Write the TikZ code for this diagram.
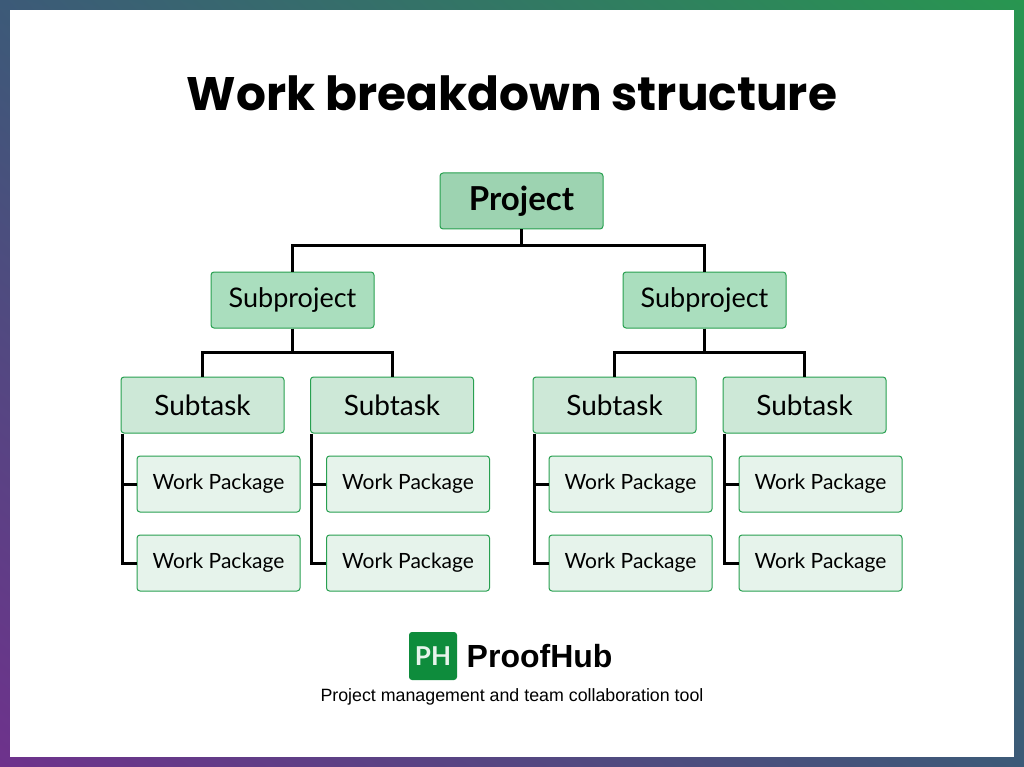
\documentclass[tikz,border=0pt]{standalone}
\usepackage{fontspec}
\setmainfont{Lato}
\newfontfamily\titlefont{Poppins}
\newfontfamily\arialfont{Liberation Sans}
\usetikzlibrary{calc, positioning, shadings}
\definecolor{frameA}{RGB}{40, 150, 80}
\definecolor{frameB}{RGB}{110, 50, 140}
\definecolor{frameC}{RGB}{60, 90, 120}
\definecolor{boxline}{RGB}{40, 160, 80}
\definecolor{projfill}{RGB}{157, 211, 177}
\definecolor{subfill}{RGB}{170, 222, 190}
\definecolor{taskfill}{RGB}{205, 232, 215}
\definecolor{wpfill}{RGB}{230, 243, 235}
\definecolor{phgreen}{RGB}{14, 140, 60}
\tikzset{
    boxnode/.style = {draw=boxline, line width=1pt, rectangle, rounded corners=3pt,
      minimum width=163pt, minimum height=56pt, inner sep=0pt},
    projnode/.style = {boxnode, fill=projfill, font=\fontsize{33}{38}\selectfont\bfseries},
    subnode/.style = {boxnode, fill=subfill, font=\fontsize{27}{32}\selectfont},
    tasknode/.style = {boxnode, fill=taskfill, font=\fontsize{28}{33}\selectfont},
    wpnode/.style = {boxnode, fill=wpfill, font=\fontsize{21}{25}\selectfont},
    connect/.style = {black, line width=3pt}
}
\begin{document}
\begin{tikzpicture}[x=1pt, y=-1pt]
\useasboundingbox (0,0) rectangle (1024,767);
\shade[upper left=frameC, upper right=frameA, lower left=frameB, lower right=frameC] (0,767) rectangle (1024,0);
\fill[white] (10,10) rectangle (1014,757);

\node [name=title, font=\titlefont\fontsize{47}{52}\selectfont\bfseries] at (512,93) {Work breakdown structure};

\node [projnode, name=project] at (521.5,201) {Project};
\node [subnode, name=sub1] at (292.5,300) {Subproject};
\node [subnode, name=sub2] at (704.5,300) {Subproject};
\coordinate (hub) at (521.5,245);
\draw [connect] (project) -- (hub) -| (sub1);
\draw [connect] (hub) -| (sub2);

% subtasks and work packages
\foreach \i/\x/\s in {1/202.5/1, 2/392/1, 3/614.5/2, 4/804.5/2} {
  \node [tasknode, name=task\i] at (\x,405) {Subtask};
  \node [wpnode, name=wp\i a, anchor=north west] at ($(task\i.north west)+(16,79)$) {Work Package};
  \node [wpnode, name=wp\i b, anchor=north west] at ($(task\i.north west)+(16,158)$) {Work Package};
  \draw [connect] (sub\s.south) -- ++(0,24) -| (task\i.north);
  \draw [connect] ([xshift=1.5pt]task\i.south west) |- (wp\i b.west);
  \draw [connect] ([xshift=1.5pt]task\i.south west |- wp\i a.west) -- (wp\i a.west);
}

% logo
\node [fill=phgreen, rounded corners=3pt, minimum size=48pt, inner sep=0pt, name=logo,
  text=white!90!phgreen, font=\fontsize{26}{30}\selectfont\bfseries] at (433,656) {PH};
\node [right=6pt of logo, name=brand, font=\arialfont\fontsize{32}{36}\selectfont\bfseries] {ProofHub};
\node [name=tagline, font=\arialfont\fontsize{17.8}{21}\selectfont] at (512,697) {Project management and team collaboration tool};
\end{tikzpicture}
\end{document}
